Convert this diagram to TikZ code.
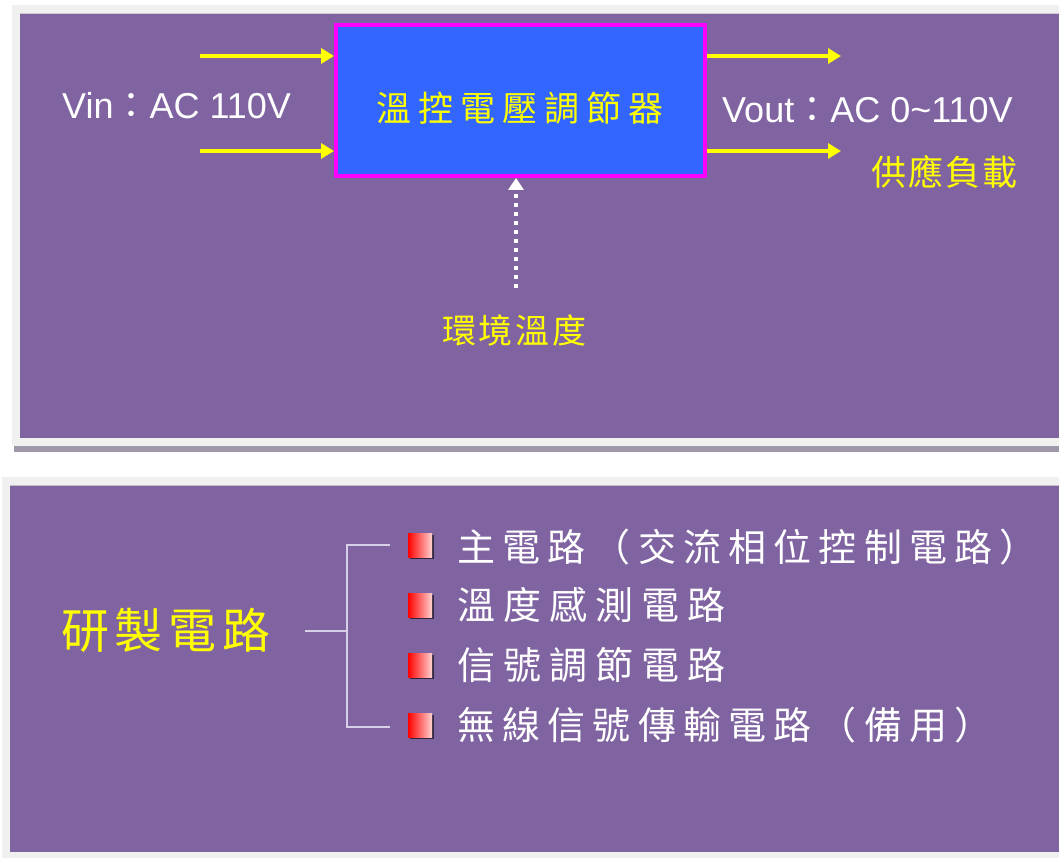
\documentclass[tikz,border=0pt]{standalone}
\usepackage{fontspec}
\setmainfont{Liberation Sans}
\newfontfamily\cjk{Noto Sans CJK TC}
\usetikzlibrary{arrows.meta,shadows}
\definecolor{panelpurple}{HTML}{8064A2}
\definecolor{framegray}{HTML}{F0F0F0}
\definecolor{shadowgray}{HTML}{9E97A8}
\definecolor{boxblue}{HTML}{3366FF}
\definecolor{boxmag}{HTML}{FF00FF}
\definecolor{ylw}{HTML}{FFFF00}
\definecolor{bracketc}{HTML}{D8D0E6}
\definecolor{bulletred}{HTML}{FF0000}
\definecolor{bulletpink}{HTML}{FFD0D0}
\tikzset{
  yarrow/.style={draw=ylw,line width=4pt,-{Triangle[length=13pt,width=15pt]}},
  dotarrow/.style={draw=white,line width=4pt,dash pattern=on 4pt off 5pt,-{Triangle[length=12pt,width=15pt]}},
  lbl/.style={inner sep=0pt,anchor=west,font=\fontsize{36}{40}\selectfont,text=white},
  cjklbl/.style={inner sep=0pt,anchor=west,text=ylw},
  itemtxt/.style={inner sep=0pt,anchor=west,text=white,font=\cjk\addfontfeature{LetterSpace=21}\fontsize{38}{44}\selectfont},
  bulletbox/.style={minimum width=24pt,minimum height=24pt,inner sep=0pt,left color=bulletred,right color=bulletpink,
    drop shadow={shadow xshift=2pt,shadow yshift=-2pt,opacity=0.6,fill=black}},
  bracket/.style={draw=bracketc,line width=2pt},
}
\begin{document}
\begin{tikzpicture}[x=1pt,y=-1pt]
\useasboundingbox (0,0) rectangle (1059,858);
% panels
\fill[framegray] (12,5) rectangle (1059,446);
\fill[shadowgray] (14,446) rectangle (1059,452);
\fill[panelpurple] (20,13) rectangle (1059,438);
\draw[gray!40,line width=0.8pt] (20,13.4) -- (1059,13.4);
\fill[framegray] (2,477) rectangle (1059,858);
\fill[panelpurple] (10,485) rectangle (1059,852);
\draw[gray!50,line width=0.8pt] (10,485.4) -- (1059,485.4);
% ---------- top diagram ----------
\node[draw=boxmag,fill=boxblue,line width=4pt,minimum width=369pt,minimum height=151pt,inner sep=0pt] (box) at (520.5,100.5) {};
\node[cjklbl,font=\cjk\addfontfeature{LetterSpace=20}\fontsize{35}{40}\selectfont] (title) at (376,108.5) {溫控電壓調節器};
\coordinate (in1) at (200,56);
\coordinate (in2) at (200,151);
\coordinate (out1) at (841,56);
\coordinate (out2) at (841,151);
\draw[yarrow] (in1) -- (in1 -| box.west);
\draw[yarrow] (in2) -- (in2 -| box.west);
\draw[yarrow] (out1 -| box.east) -- (out1);
\draw[yarrow] (out2 -| box.east) -- (out2);
\node[lbl,anchor=base west] (vin) at (62,119) {Vin{\cjk：}AC 110V};
\node[lbl,anchor=base west] (vout) at (722,123) {Vout{\cjk：}AC 0\char"7E 110V};
\node[cjklbl,font=\cjk\addfontfeature{LetterSpace=6}\fontsize{35}{40}\selectfont] (load) at (871,171.5) {供應負載};
\node[cjklbl,font=\cjk\addfontfeature{LetterSpace=8}\fontsize{34}{40}\selectfont] (env) at (442,331) {環境溫度};
\coordinate (envtop) at (516,288);
\draw[dotarrow] (envtop) -- (envtop |- box.south);
% ---------- bottom diagram ----------
\node[cjklbl,font=\cjk\addfontfeature{LetterSpace=12}\fontsize{48}{54}\selectfont] (make) at (61,630) {研製電路};
\coordinate (bstem) at (305,631);
\coordinate (bjoin) at (347,631);
\coordinate (b1) at (390,545);
\coordinate (b4) at (390,727);
\draw[bracket] (bstem) -- (bjoin);
\draw[bracket] (b1) -- (b1 -| bjoin) -- (b4 -| bjoin) -- (b4);
\foreach \i/\yy in {1/545,2/605,3/665,4/725}{
  \node[bulletbox] (bul\i) at (420,\yy) {};
}
\node[itemtxt,font=\cjk\addfontfeature{LetterSpace=19}\fontsize{38}{44}\selectfont] (it1) at (457,547) {主電路（交流相位控制電路）};
\node[itemtxt] (it2) at (457,605) {溫度感測電路};
\node[itemtxt] (it3) at (457,665) {信號調節電路};
\node[itemtxt,font=\cjk\addfontfeature{LetterSpace=19}\fontsize{38}{44}\selectfont] (it4) at (457,725) {無線信號傳輸電路（備用）};
\end{tikzpicture}
\end{document}
